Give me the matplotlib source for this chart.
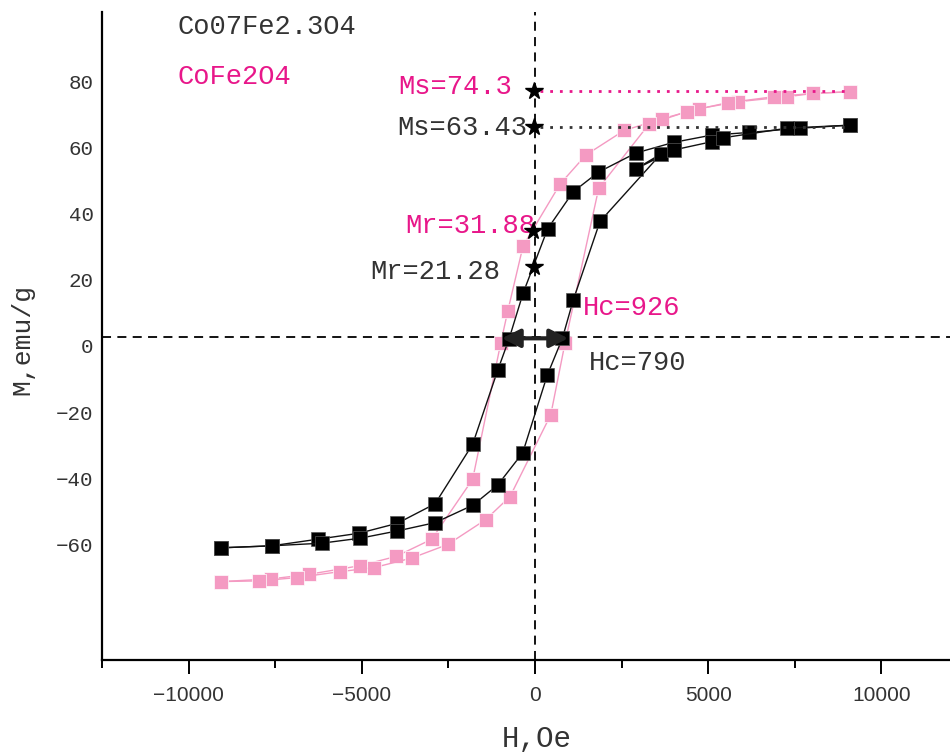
import numpy as np
import matplotlib
matplotlib.use('Agg')
from matplotlib import pyplot as plt
from matplotlib.transforms import ScaledTranslation

## data (H in Oe, M in emu/g)
# Co07Fe2.3O4 (black)
blk_desc_H = [9080, 7650, 6180, 5100, 4000, 2915, 1830, 1105, 365, -345, -750,
              -1075, -1800, -2885, -3975, -5080, -6270, -7600, -9060]
blk_desc_M = [64.0, 63.1, 61.8, 61.0, 58.8, 55.6, 49.8, 43.9, 32.7, 13.2, -0.6,
              -10.0, -32.4, -50.4, -56.3, -59.3, -61.1, -63.1, -63.7]
blk_asc_H = [-9060, -7600, -6155, -5050, -3975, -2885, -1790, -1075, -355, 355,
             790, 1105, 1875, 3635, 2915, 4000, 5100, 5435, 7280, 9080]
blk_asc_M = [-63.7, -63.1, -62.3, -60.8, -58.6, -56.1, -50.8, -44.7, -35.0, -11.5,
             -0.4, 11.2, 34.9, 55.3, 50.8, 56.5, 59.0, 60.2, 63.1, 64.0]

# CoFe2O4 (pink)
pnk_desc_H = [9080, 8030, 7280, 5865, 4735, 3655, 2570, 1470, 730, -345, -785,
              -990, -1800, -2980, -4010, -5050, -6520, -7620, -9060]
pnk_desc_M = [74.1, 73.6, 72.6, 71.1, 69.0, 65.9, 62.4, 55.0, 46.3, 27.5, 7.9,
              -1.9, -43.0, -61.1, -66.3, -69.1, -71.7, -73.1, -73.9]
pnk_asc_H = [-9060, -7965, -6870, -5635, -4655, -3560, -2520, -1425, -720, 455,
             865, 1840, 3290, 4385, 5560, 6900, 8030, 9080]
pnk_asc_M = [-73.9, -73.7, -72.7, -70.9, -69.7, -66.8, -62.7, -55.2, -48.2, -23.5,
             -1.9, 45.0, 64.3, 68.1, 70.8, 72.6, 73.6, 74.1]

Ms_pink, Ms_blk = 74.3, 63.43
Mr_pink, Mr_blk = 31.88, 21.28
Hc_pink, Hc_blk = 926, 790

xticks = [-10000, -5000, 0, 5000, 10000]
yticks = [80, 60, 40, 20, 0, -20, -40, -60]

PINK = '#f49ac2'
MAG = '#e8178a'
DARK = '#333333'
MONO = 'Liberation Mono'

fig = plt.figure(figsize=(9.5, 7.52), dpi=100)
ax = fig.add_axes([102/950, 92/752, 848/950, 648/752])

## curves
for h, m in [(pnk_desc_H, pnk_desc_M), (pnk_asc_H, pnk_asc_M)]:
    ax.plot(h, m, '-', color=PINK, lw=1, marker='s', ms=10, mfc=PINK,
            mec='white', mew=0.5, zorder=3)
for h, m in [(blk_desc_H, blk_desc_M), (blk_asc_H, blk_asc_M)]:
    ax.plot(h, m, '-', color='#111111', lw=1, marker='s', ms=10, mfc='black',
            mec='#555555', mew=0.5, zorder=4)

## zero lines
ax.axvline(0, color='black', lw=1.3, ls=(0, (5, 3.5)), zorder=2)
ax.axhline(0, color='black', lw=1.3, ls=(0, (5, 3.5)), zorder=2)

## Ms / Mr markers and guide lines
ax.plot([150, 9100], [Ms_pink, Ms_pink], color=MAG, lw=2, ls=(0, (1, 2.5)), zorder=5)
ax.plot([150, 9100], [Ms_blk, Ms_blk], color=DARK, lw=2, ls=(0, (1, 2.5)), zorder=5)
ax.plot([-30, -30], [Ms_pink, Ms_blk], '*', color='black', ms=13, zorder=6)
ax.plot([-50, -40], [Mr_pink, Mr_blk], '*', color='black', ms=13, zorder=6)

## coercivity arrow
ax.annotate('', xy=(960, -0.4), xytext=(-960, -0.4),
            arrowprops=dict(arrowstyle='<|-|>,head_length=1.1,head_width=0.55',
                            lw=3, color='#222222', shrinkA=0, shrinkB=0), zorder=7)

## text labels
fs = 19.5
ax.text(-10330, 93.7, 'Co07Fe2.3O4', color=DARK, fontsize=fs, family=MONO, va='center')
ax.text(-10330, 78.5, 'CoFe2O4', color=MAG, fontsize=fs, family=MONO, va='center')
ax.text(-660, 75.5, 'Ms=74.3', color=MAG, fontsize=fs, family=MONO, va='center', ha='right')
ax.text(-230, 63.1, 'Ms=63.43', color=DARK, fontsize=fs, family=MONO, va='center', ha='right')
ax.text(0, 33.5, 'Mr=31.88', color=MAG, fontsize=fs, family=MONO, va='center', ha='right')
ax.text(-1010, 19.6, 'Mr=21.28', color=DARK, fontsize=fs, family=MONO, va='center', ha='right')
ax.text(1385, 8.8, 'Hc=926', color=MAG, fontsize=fs, family=MONO, va='center')
ax.text(1560, -7.9, 'Hc=790', color=DARK, fontsize=fs, family=MONO, va='center')

## axes
ax.set_xlim(-12500, 11980)
ax.set_ylim(-97.6, 98.2)
ax.spines['top'].set_visible(False)
ax.spines['right'].set_visible(False)
ax.spines['left'].set_linewidth(1.6)
ax.spines['bottom'].set_linewidth(1.6)

ax.set_xticks(xticks)
ax.set_xticks(np.arange(-12500, 12000, 2500), minor=True)
ax.tick_params(axis='x', which='major', length=10, width=1.4, pad=9,
               labelsize=15, labelcolor=DARK)
ax.tick_params(axis='x', which='minor', length=6, width=1.4)
for lab in ax.get_xticklabels():
    lab.set_family('Liberation Sans')

ax.set_yticks(yticks)
ax.tick_params(axis='y', length=0, pad=6, labelsize=15, labelcolor=DARK)
offset = ScaledTranslation(0, -0.09, fig.dpi_scale_trans)
for lab in ax.get_yticklabels():
    lab.set_family(MONO)
    lab.set_transform(lab.get_transform() + offset)

ax.set_xlabel('H,Oe', fontsize=21, family=MONO, color=DARK)
ax.xaxis.set_label_coords(0.513, -0.1)
ax.set_ylabel('M,emu/g', fontsize=19, family=MONO, color=DARK, va='center')
ax.yaxis.set_label_coords(-0.094, 0.494)

fig.savefig('out.png', dpi=100)
